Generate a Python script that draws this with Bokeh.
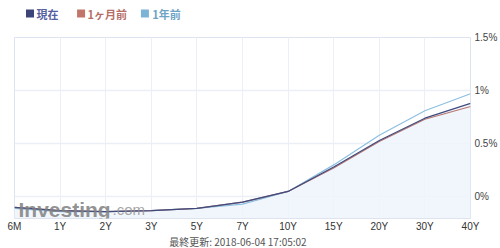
from bokeh.plotting import figure
from bokeh.models import Range1d, LinearAxis, FixedTicker, Label, ColumnDataSource
from bokeh.layouts import column
from bokeh.core.properties import value
from bokeh.embed import file_html
from bokeh.resources import INLINE

tenors = ["6M", "1Y", "2Y", "3Y", "5Y", "7Y", "10Y", "15Y", "20Y", "30Y", "40Y"]
current = [-0.10, -0.13, -0.14, -0.13, -0.11, -0.05, 0.05, 0.28, 0.53, 0.74, 0.88]
month_ago = [-0.10, -0.13, -0.14, -0.13, -0.11, -0.05, 0.05, 0.27, 0.52, 0.73, 0.85]
year_ago = [-0.11, -0.14, -0.14, -0.13, -0.11, -0.07, 0.05, 0.30, 0.58, 0.81, 0.97]
series_names = ["現在", "1ヶ月前", "1年前"]
y_ticks = [0, 0.5, 1.0, 1.5]
y_tick_labels = ["0%", "0.5%", "1%", "1.5%"]
updated = "最終更新: 2018-06-04 17:05:02"

FONT = "Liberation Sans"
xs = list(range(len(tenors)))


def strip(h):
    f = figure(width=500, height=h, output_backend="svg", toolbar_location=None,
               x_range=Range1d(0, 500), y_range=Range1d(h, 0),
               x_axis_location=None, y_axis_location=None,
               min_border=0, min_border_left=0, min_border_right=0,
               min_border_top=0, min_border_bottom=0)
    f.outline_line_color = None
    f.grid.visible = False
    return f


# ---------- legend strip ----------
leg = strip(30)
leg_src = ColumnDataSource(dict(
    sx=[17, 73, 143], sy=[13, 13, 13], tx=[24, 80, 151], ty=[13, 13, 13],
    name=series_names,
    sq=["#3c4478", "#c27669", "#7db3d5"],
    tc=["#55609f", "#b56f66", "#6ea3c6"]))
leg.scatter(x="sx", y="sy", source=leg_src, marker="square", size=8,
            fill_color="sq", line_color=None)
leg.text(x="tx", y="ty", text="name", source=leg_src, text_color="tc",
         text_font=value("Noto Sans CJK JP"), text_font_style="bold",
         text_font_size="11px", text_baseline="middle", text_align="left")

# ---------- main chart ----------
p = figure(width=500, height=204, output_backend="svg", toolbar_location=None,
           x_range=Range1d(0, len(tenors) - 1), y_range=Range1d(-0.205, 1.5),
           x_axis_location="below", y_axis_location=None,
           min_border_left=14, min_border_right=24, min_border_top=7, min_border_bottom=14)
p.background_fill_color = "white"
p.border_fill_color = "white"
p.outline_line_color = "#dde4ef"
p.outline_line_width = 1

xa = p.xaxis[0]
xa.ticker = FixedTicker(ticks=xs)
xa.major_label_overrides = {i: t for i, t in enumerate(tenors)}
xa.axis_line_color = "#dde4ef"
xa.major_tick_line_color = None
xa.minor_tick_line_color = None
xa.major_tick_out = 0
xa.major_tick_in = 0
xa.major_label_text_font = FONT
xa.major_label_text_font_size = "10px"
xa.major_label_text_color = "#333333"
xa.major_label_standoff = 2

ya = LinearAxis(ticker=FixedTicker(ticks=y_ticks),
                major_label_overrides={t: l for t, l in zip(y_ticks, y_tick_labels)})
ya.axis_line_color = None
ya.major_tick_line_color = None
ya.minor_tick_line_color = None
ya.major_tick_out = 0
ya.major_tick_in = 0
ya.major_label_text_font = FONT
ya.major_label_text_font_size = "10px"
ya.major_label_text_color = "#444444"
ya.major_label_standoff = 4
p.add_layout(ya, "right")

p.xgrid.ticker = FixedTicker(ticks=xs)
p.xgrid.grid_line_color = "#eceff6"
p.ygrid.ticker = FixedTicker(ticks=y_ticks)
p.ygrid.grid_line_color = "#eceff6"
p.ygrid.grid_line_width = 1.5

src = ColumnDataSource(dict(x=xs, cur=current, mon=month_ago, yr=year_ago,
                            base=[-0.205] * len(xs)))

# watermark (screen units relative to the frame's bottom-left corner)
p.add_layout(Label(x=4, y=9, x_units="screen", y_units="screen", text="Investing",
                   text_font=FONT, text_font_style="bold", text_font_size="21px",
                   text_baseline="alphabetic", text_color="#808080", text_alpha=0.85))
p.add_layout(Label(x=98, y=9, x_units="screen", y_units="screen", text=".com",
                   text_font=FONT, text_font_size="15px", text_baseline="alphabetic",
                   text_color="#959595", text_alpha=0.85))

p.varea(x="x", y1="base", y2="cur", source=src, fill_color="#eef5fc", fill_alpha=0.85)
p.line(x="x", y="yr", source=src, line_color="#8dbfe0", line_width=1.2)
p.line(x="x", y="mon", source=src, line_color="#b97771", line_width=1.2)
p.line(x="x", y="cur", source=src, line_color="#3e4b7e", line_width=1.2)

# ---------- footer strip ----------
foot = strip(14)
foot.text(x=[245], y=[7], text=[updated], text_font=value("Noto Sans CJK JP"),
          text_font_size="10px", text_color="#555555", text_align="center",
          text_baseline="middle")

layout = column(leg, p, foot, spacing=0)
open("out.html", "w").write(file_html(layout, INLINE))
